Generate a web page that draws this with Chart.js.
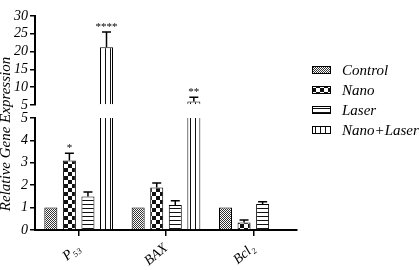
<!DOCTYPE html>
<html>
<head>
<meta charset="utf-8">
<script src="https://cdn.jsdelivr.net/npm/chart.js@4.4.1/dist/chart.umd.min.js"></script>
<style>
  html, body { margin: 0; padding: 0; background: #fff; }
  #wrap { width: 420px; height: 270px; position: relative; }
</style>
</head>
<body>
<div id="wrap"><canvas id="geneChart"></canvas></div>
<script>
// categories and series
const categories = ['P₅₃', 'BAX', 'Bcl₂'];
const seriesNames = ['Control', 'Nano', 'Laser', 'Nano+Laser'];

const controlValues = [1, 1, 1];
const nanoValues = [3.1, 1.9, 0.34];
const laserValues = [1.5, 1.12, 1.16];
const nanoLaserValues = [21.2, 6.0, null];

const controlErr = [0, 0, 0];
const nanoErr = [0.33, 0.2, 0.11];
const laserErr = [0.2, 0.19, 0.1];
const nanoLaserErr = [4.3, 1.15, null];

const controlSig = ['', '', ''];
const nanoSig = ['*', '', ''];
const laserSig = ['', '', ''];
const nanoLaserSig = ['****', '**', ''];

const lowTicks = [0, 1, 2, 3, 4, 5];
const highTicks = [5, 10, 15, 20, 25, 30];

// axis break
const breakAt = 5;

const serif = '"Liberation Serif", "Times New Roman", serif';

// fill patterns
function makePattern(w, h, draw) {
  const c = document.createElement('canvas');
  c.width = w; c.height = h;
  const g = c.getContext('2d');
  g.fillStyle = '#fff';
  g.fillRect(0, 0, w, h);
  g.fillStyle = '#111';
  draw(g);
  return g.createPattern(c, 'repeat');
}

const fills = [
  makePattern(2, 2, g => { g.fillStyle = '#333'; g.fillRect(0, 0, 1, 1); g.fillRect(1, 1, 1, 1); }),
  makePattern(8, 8, g => { g.fillRect(0, 0, 4, 4); g.fillRect(4, 4, 4, 4); }),
  makePattern(1, 4, g => { g.fillRect(0, 0, 1, 1); }),
  makePattern(5, 1, g => { g.fillRect(0, 0, 1, 1); })
];

const allValues = [controlValues, nanoValues, laserValues, nanoLaserValues];
const allErrs = [controlErr, nanoErr, laserErr, nanoLaserErr];
const allSig = [controlSig, nanoSig, laserSig, nanoLaserSig];

const datasets = [];
// lower segment (0..5)
allValues.forEach((vals, k) => {
  datasets.push({
    label: seriesNames[k],
    data: vals.map(v => v == null ? null : Math.min(v, breakAt)),
    yAxisID: 'yLow',
    stack: 's' + k,
    backgroundColor: fills[k],
    borderColor: '#000',
    borderWidth: ctx => (vals[ctx.dataIndex] > breakAt ? {top: 0, left: 1, right: 1, bottom: 0} : 1),
    categoryPercentage: 0.85,
    barPercentage: 0.7
  });
});
// upper segment (5..30)
allValues.forEach((vals, k) => {
  datasets.push({
    label: seriesNames[k] + ' (upper)',
    data: vals.map(v => v != null && v > breakAt ? v : null),
    yAxisID: 'yTop',
    stack: 's' + k,
    base: breakAt,
    backgroundColor: fills[k],
    borderColor: '#000',
    borderWidth: 1,
    categoryPercentage: 0.85,
    barPercentage: 0.7
  });
});

const fixWidth = s => { s.width = 35; };

const errorBars = {
  id: 'errorBars',
  afterDatasetsDraw(chart) {
    const ctx = chart.ctx;
    ctx.save();
    ctx.strokeStyle = '#000';
    ctx.fillStyle = '#000';
    ctx.lineWidth = 1.5;
    allValues.forEach((vals, k) => {
      vals.forEach((v, i) => {
        if (v == null) return;
        const high = v > breakAt;
        const meta = chart.getDatasetMeta(high ? 4 + k : k);
        const scale = chart.scales[high ? 'yTop' : 'yLow'];
        const bar = meta.data[i];
        if (!bar) return;
        const e = allErrs[k][i] || 0;
        const yBar = scale.getPixelForValue(v);
        const yErr = scale.getPixelForValue(v + e);
        if (e > 0) {
          ctx.beginPath();
          ctx.moveTo(bar.x, yBar);
          ctx.lineTo(bar.x, yErr);
          ctx.moveTo(bar.x - 4.5, yErr);
          ctx.lineTo(bar.x + 4.5, yErr);
          ctx.stroke();
        }
        const sig = allSig[k][i];
        if (sig) {
          ctx.font = '11px ' + serif;
          ctx.textAlign = 'center';
          ctx.textBaseline = 'alphabetic';
          ctx.fillText(sig, bar.x, yErr - 2);
        }
      });
    });
    ctx.restore();
  }
};

const sideText = {
  id: 'sideText',
  afterDraw(chart) {
    const ctx = chart.ctx;
    ctx.save();
    // y axis title
    ctx.translate(6, 134);
    ctx.rotate(-Math.PI / 2);
    ctx.font = 'italic 15px ' + serif;
    ctx.fillStyle = '#000';
    ctx.textAlign = 'center';
    ctx.textBaseline = 'middle';
    ctx.fillText('Relative Gene Expression', 0, 0);
    ctx.restore();

    // legend
    ctx.save();
    seriesNames.forEach((name, k) => {
      const y = 70 + k * 20;
      ctx.fillStyle = fills[k];
      ctx.fillRect(312, y - 4, 19, 8);
      ctx.strokeStyle = '#000';
      ctx.lineWidth = 1;
      ctx.strokeRect(312.5, y - 3.5, 18, 7);
      ctx.fillStyle = '#000';
      ctx.font = 'italic 15px ' + serif;
      ctx.textAlign = 'left';
      ctx.textBaseline = 'middle';
      ctx.fillText(name, 342, y + 1);
    });
    ctx.restore();
  }
};

const yAxisCommon = {
  type: 'linear',
  stack: 'y',
  border: { color: '#000', width: 2 },
  grid: { drawOnChartArea: false, tickLength: 5, color: '#000', lineWidth: 1.5 },
  ticks: { color: '#000', padding: 2, autoSkip: false, font: { family: serif, style: 'italic', size: 14 } },
  afterFit: fixWidth
};

new Chart(document.getElementById('geneChart'), {
  type: 'bar',
  data: { labels: categories, datasets: datasets },
  options: {
    responsive: true,
    maintainAspectRatio: false,
    animation: false,
    layout: { padding: { top: 16, right: 123, bottom: 0, left: 0 } },
    plugins: { legend: { display: false }, tooltip: { enabled: false } },
    scales: {
      x: {
        type: 'category',
        border: { color: '#000', width: 2 },
        grid: { drawOnChartArea: false, offset: false, tickLength: 6, color: '#000', lineWidth: 1.5 },
        ticks: { color: '#000', minRotation: 40, maxRotation: 40, padding: 4,
          font: { family: serif, style: 'italic', size: 14 } },
        afterFit: s => { s.height = 40; }
      },
      yTop: Object.assign({}, yAxisCommon, {
        weight: 3, stackWeight: 89, min: 5, max: 30,
        afterBuildTicks: s => { s.ticks = highTicks.map(v => ({ value: v })); }
      }),
      yGap: {
        type: 'linear', stack: 'y', weight: 2, stackWeight: 13, min: 0, max: 1,
        border: { display: false }, grid: { display: false }, ticks: { display: false },
        afterFit: fixWidth
      },
      yLow: Object.assign({}, yAxisCommon, {
        weight: 1, stackWeight: 112, min: 0, max: 5,
        afterBuildTicks: s => { s.ticks = lowTicks.map(v => ({ value: v })); }
      })
    }
  },
  plugins: [errorBars, sideText]
});
</script>
</body>
</html>
